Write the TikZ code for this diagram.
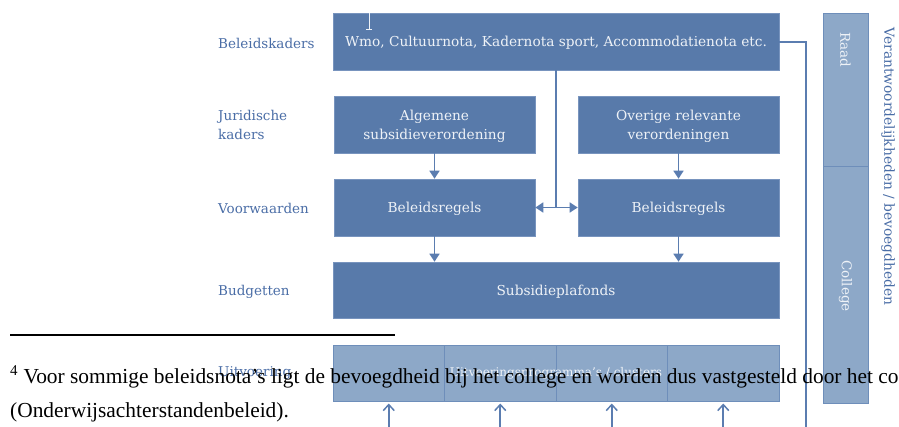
\documentclass[tikz,border=0pt]{standalone}
\usepackage{fontspec}
\setmainfont{DejaVu Serif}
\newfontfamily\timesfont{Liberation Serif}
\usetikzlibrary{arrows.meta}
\definecolor{boxdark}{HTML}{587AAA}
\definecolor{boxedge}{HTML}{7894BE}
\definecolor{boxlight}{HTML}{8DA8C8}
\definecolor{lightedge}{HTML}{6E8EBA}
\definecolor{lbl}{HTML}{4A6DA6}
\definecolor{boxtext}{HTML}{EEF2F7}
\definecolor{linec}{HTML}{5B7DB0}
\begin{document}
\begin{tikzpicture}[x=1pt,y=-1pt,
  darkbox/.style={fill=boxdark, draw=boxedge, line width=0.6pt, text=boxtext,
    font=\fontsize{13.7}{19}\selectfont, align=center, inner sep=0pt, text depth=0pt},
  lightbox/.style={fill=boxlight, draw=lightedge, line width=1pt, inner sep=0pt},
  rowlabel/.style={anchor=west, text=lbl, font=\fontsize{13.5}{19}\selectfont, align=left, inner sep=0pt},
  conn/.style={draw=linec, line width=1.6pt},
  downarrow/.style={conn, -{Triangle[width=10pt,length=8pt]}},
  botharrow/.style={conn, {Triangle[width=10pt,length=8pt]}-{Triangle[width=10pt,length=8pt]}},
  uparrow/.style={conn, -{Straight Barb[width=11pt,length=6pt,line width=1.5pt]}},
  foot/.style={anchor=base west, inner sep=0pt, font=\timesfont\fontsize{21.4}{24}\selectfont, text=black}
]
\useasboundingbox (0,0) rectangle (899,426);
\clip (0,0) rectangle (899,426);

% row labels
\node[rowlabel] (lb1) at (218,43) {Beleidskaders};
\node[rowlabel] (lb2) at (218,125) {Juridische\\kaders};
\node[rowlabel] (lb3) at (218,208) {Voorwaarden};
\node[rowlabel] (lb4) at (218,292) {Budgetten};
\node[rowlabel] (lb5) at (218,373) {Uitvoering};

% main boxes
\node[darkbox, minimum width=446pt, minimum height=57pt] (top) at (556,41.5)
  {Wmo, Cultuurnota, Kadernota sport, Accommodatienota etc.};
\node[darkbox, minimum width=201pt, minimum height=57pt] (asv) at (434.5,124.5)
  {Algemene\\subsidieverordening};
\node[darkbox, minimum width=201pt, minimum height=57pt] (ovr) at (678.5,124.5)
  {Overige relevante\\verordeningen};
\node[darkbox, minimum width=201pt, minimum height=57pt] (br1) at (434.5,207.5)
  {Beleidsregels};
\node[darkbox, minimum width=201pt, minimum height=57pt] (br2) at (678.5,207.5)
  {Beleidsregels};
\node[darkbox, minimum width=446pt, minimum height=56pt] (sub) at (556,290)
  {Subsidieplafonds};

% cursor mark
\draw[boxtext, line width=0.8pt] (369,13) -- (369,29) (366,29) -- (372,29);

% connectors
\coordinate (split) at (556,207.5);
\draw[conn] (top.south) -- (split);
\draw[botharrow] (br1.east) -- (split) -- (br2.west);
\draw[downarrow] (asv.south) -- (br1.north);
\draw[downarrow] (ovr.south) -- (br2.north);
\draw[downarrow] (br1.south) -- (br1.south |- sub.north);
\draw[downarrow] (br2.south) -- (br2.south |- sub.north);

% right column
\node[lightbox, minimum width=45pt, minimum height=154pt] (raad) at (845.5,90) {};
\node[lightbox, minimum width=45pt, minimum height=237pt] (coll) at (845.5,285) {};
\node[rotate=-90, text=boxtext, font=\fontsize{13.5}{16}\selectfont, inner sep=0pt] (raadt) at (845.5,50) {Raad};
\node[rotate=-90, text=boxtext, font=\fontsize{13.5}{16}\selectfont, inner sep=0pt] (collt) at (845.5,286) {College};
\node[rotate=-90, text=lbl, font=\fontsize{13.8}{16}\selectfont, inner sep=0pt] (verb) at (888,166.5)
  {Verantwoordelijkheden / bevoegdheden};

\coordinate (rc1) at (806,42);
\coordinate (rc2) at (806,430);
\draw[conn] (top.east |- rc1) -- (rc1) -- (rc2);

% bottom row (uitvoering)
\node[lightbox, minimum width=111.5pt, minimum height=56.5pt] (u1) at (388.75,373.25) {};
\node[lightbox, minimum width=111.5pt, minimum height=56.5pt] (u2) at (500.25,373.25) {};
\node[lightbox, minimum width=111.5pt, minimum height=56.5pt] (u3) at (611.75,373.25) {};
\node[lightbox, minimum width=111.5pt, minimum height=56.5pt] (u4) at (723.25,373.25) {};
\node[text=boxtext, font=\fontsize{12}{14}\selectfont, inner sep=0pt] (ut) at (556,373) {Uitvoeringsprogramma's / clusters};
\foreach \i in {1,2,3,4}{
  \coordinate (ua\i) at ([yshift=-30pt]u\i.south);
  \draw[uparrow] (ua\i) -- ([yshift=-1.5pt]u\i.south);
}

% footnote
\draw[black, line width=1.3pt] (10,335) coordinate (fr1) -- (395,335) coordinate (fr2);
\node[foot] (fn1) at (10,383) {\textsuperscript{4} Voor sommige beleidsnota’s ligt de bevoegdheid bij het college en worden dus vastgesteld door het co};
\node[foot] (fn2) at (10,417) {(Onderwijsachterstandenbeleid).};
\end{tikzpicture}
\end{document}
